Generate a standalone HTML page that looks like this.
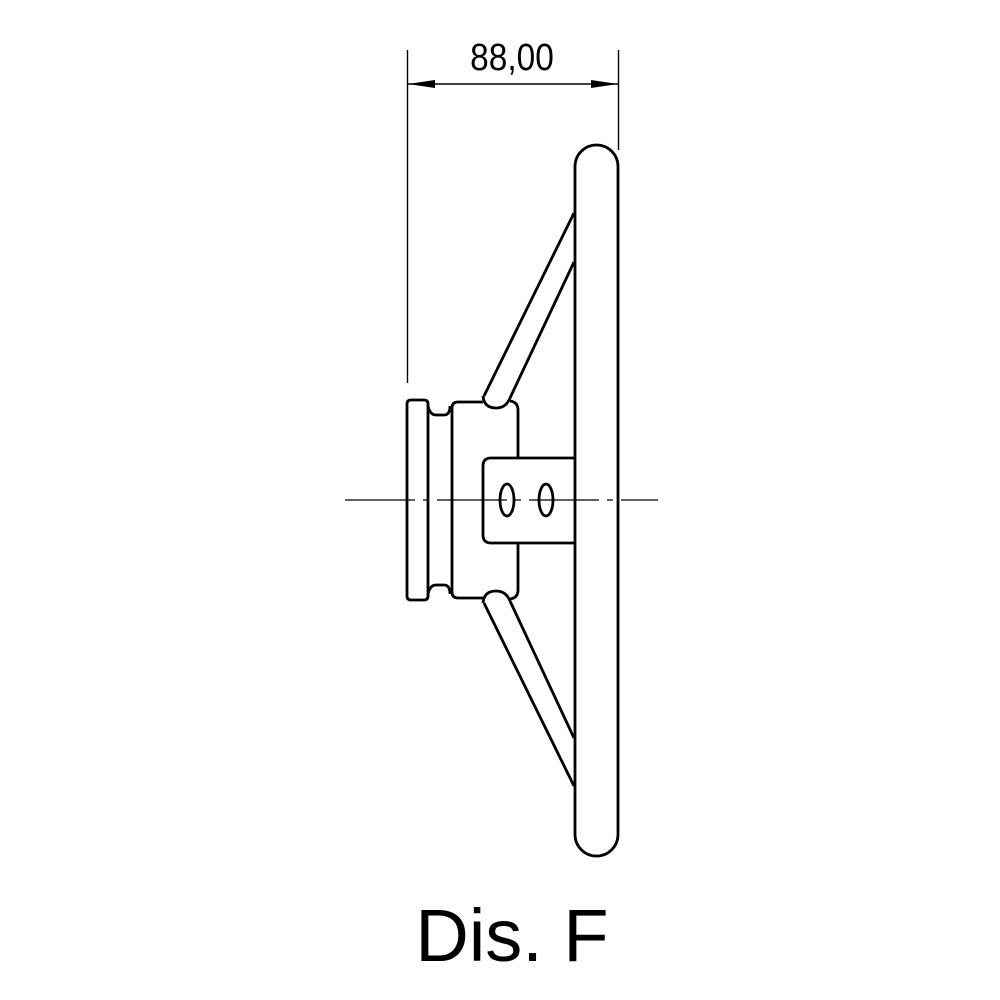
<!DOCTYPE html>
<html><head><meta charset="utf-8"><style>
html,body{margin:0;padding:0;background:#fff;}
svg{display:block;}
</style></head><body>
<svg width="1000" height="1000" viewBox="0 0 1000 1000" xmlns="http://www.w3.org/2000/svg">
<rect width="1000" height="1000" fill="#fff"/>
<g stroke="#000" fill="none">
  <line x1="407.5" y1="50" x2="407.5" y2="383" stroke-width="1.4"/>
  <line x1="618.5" y1="50" x2="618.5" y2="150" stroke-width="1.4"/>
  <line x1="407" y1="84" x2="618" y2="84" stroke-width="1.4"/>
  <line x1="345" y1="500" x2="658" y2="500" stroke-width="1.2" stroke-dasharray="70,8,6,8"/>
</g>
<polygon points="408,84 435,80 435,88" fill="#000"/>
<polygon points="618,84 591,80 591,88" fill="#000"/>
<text transform="translate(512,70) scale(0.88,1)" font-family="'Liberation Sans',sans-serif" font-size="38" text-anchor="middle">88,00</text>
<g stroke="#000" stroke-width="2.8" fill="none" stroke-linejoin="round">
  <rect x="575" y="145" width="43" height="711" rx="21.5"/>
  <line x1="574" y1="213" x2="484" y2="396"/>
  <line x1="574" y1="262" x2="510" y2="398"/>
  <path d="M483,396 Q484,408 496,408 Q506,408 510,398"/>
  <line x1="574" y1="786" x2="484" y2="603"/>
  <line x1="574" y1="738" x2="510" y2="601"/>
  <path d="M483,603 Q484,591 496,591 Q506,591 510,601"/>
  <path d="M411,400 H424 Q428,400 428,404 V596 Q428,600 424,600 H411 Q407,600 407,596 V404 Q407,400 411,400 Z"/>
  <path d="M428,406 Q430,415 436,415 H444 Q450,415 450,406"/>
  <path d="M428,594 Q430,585 436,585 H444 Q450,585 450,594"/>
  <path d="M483,402 H458 Q452,402 452,408 V592 Q452,598 458,598 H483"/>
  <path d="M510,401 Q518,402 518,410 V458"/>
  <path d="M510,599 Q518,598 518,590 V543"/>
  <path d="M575,458 H491 Q483,458 483,466 V535 Q483,543 491,543 H575"/>
  <ellipse cx="507" cy="500" rx="7" ry="16"/>
  <ellipse cx="546" cy="500" rx="7" ry="16"/>
</g>
<text x="512" y="961" font-family="'Liberation Sans',sans-serif" font-size="74" text-anchor="middle">Dis. F</text>
</svg>
</body></html>
